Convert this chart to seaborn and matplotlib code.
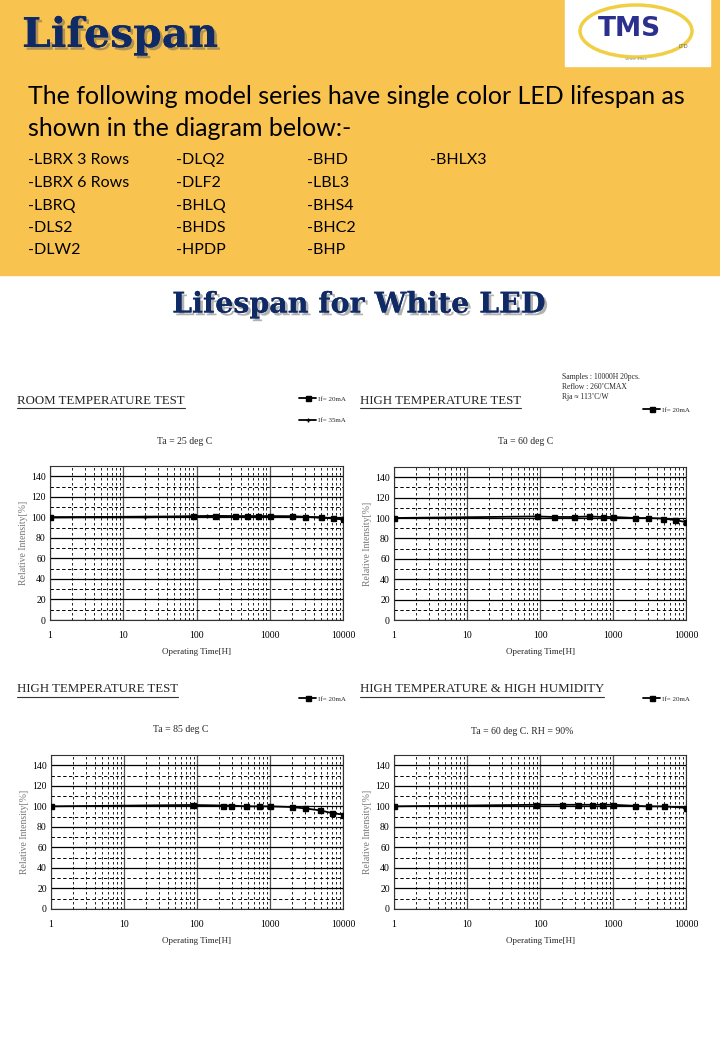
import matplotlib
matplotlib.use('Agg')
import matplotlib.pyplot as plt
import matplotlib.patheffects as pe
from matplotlib.patches import Rectangle, Ellipse
from matplotlib.lines import Line2D
from matplotlib.ticker import NullFormatter
import pandas as pd
import seaborn as sns

W, H = 720, 1040

# ---- data ----
room_hours_20 = [1, 90, 180, 340, 490, 700, 1000, 2000, 3000, 5000, 7200, 10000]
room_int_20 = [100, 101, 101.5, 101, 101, 101, 101, 101, 100.5, 100, 99, 98]
room_hours_35 = [1, 20, 140, 1000, 3000, 10000]
room_int_35 = [100, 100, 101, 101, 100.5, 98.5]

ht60_hours = [1, 90, 155, 290, 470, 720, 1000, 2000, 3000, 4900, 7000, 10000]
ht60_int = [100, 101.5, 101, 101, 101.5, 101, 101, 100, 100, 99.5, 98, 96]

ht85_hours = [1, 89, 230, 290, 475, 705, 1000, 2000, 3000, 4900, 7000, 10000]
ht85_int = [100, 101.3, 100.8, 100.8, 100, 100, 100, 99.3, 98, 96, 93.5, 92]

hh_hours = [1, 87, 200, 333, 510, 700, 1000, 2000, 3000, 5000, 10000]
hh_int = [100, 101.5, 101.5, 101.5, 101.5, 101.5, 101.5, 100.5, 100, 100, 98.5]

x_ticks = [1, 10, 100, 1000, 10000]
x_tick_labels = ['1', '10', '100', '1000', '10000']
y_ticks = [0, 20, 40, 60, 80, 100, 120, 140]

models = [
    ['-LBRX 3 Rows', '-LBRX 6 Rows', '-LBRQ', '-DLS2', '-DLW2'],
    ['-DLQ2', '-DLF2', '-BHLQ', '-BHDS', '-HPDP'],
    ['-BHD', '-LBL3', '-BHS4', '-BHC2', '-BHP'],
    ['-BHLX3'],
]

sns.set_theme(style='white')
plt.rcParams['font.family'] = ['Liberation Serif', 'DejaVu Sans']

YELLOW = '#F9C350'
NAVY = '#102A66'

fig = plt.figure(figsize=(7.2, 10.4), dpi=100)


def fx(x):
    return x / W


def fy(y):
    return 1 - y / H


# header band
fig.add_artist(Rectangle((0, fy(275)), 1, 275 / H, transform=fig.transFigure,
                         color=YELLOW, zorder=0))
# logo
fig.add_artist(Rectangle((fx(565), fy(66)), fx(145), 66 / H, transform=fig.transFigure,
                         color='white', zorder=1))
fig.add_artist(Ellipse((fx(636), fy(31)), fx(112), 52 / H, transform=fig.transFigure,
                       fill=False, edgecolor='#F0CF45', lw=2.5, zorder=2))
fig.text(fx(629), fy(29), 'TMS', family='DejaVu Sans', weight='bold', fontsize=19,
         color='#2B2F8F', ha='center', va='center', zorder=3)
fig.text(fx(683), fy(47), 'LTD', family='DejaVu Sans', fontsize=4, color='#666666',
         ha='center', va='center', zorder=3)
fig.text(fx(636), fy(59), 'since 19xx', family='DejaVu Sans', fontsize=3, color='#888888',
         ha='center', va='center', zorder=3)

shadow = [pe.withSimplePatchShadow(offset=(2, -2), shadow_rgbFace='#555555', alpha=0.45),
          pe.Normal()]
fig.text(fx(22), fy(36), 'Lifespan', family='DejaVu Serif', weight='bold', fontsize=29.5,
         color=NAVY, ha='left', va='center', path_effects=shadow)

fig.text(fx(28), fy(97), 'The following model series have single color LED lifespan as',
         family='Lato', fontsize=18, color='black', ha='left', va='center')
fig.text(fx(28), fy(129), 'shown in the diagram below:-',
         family='Lato', fontsize=18, color='black', ha='left', va='center')

col_x = [28, 176, 307, 430]
row_y = [160, 183, 206, 228, 250]
for cx, names in zip(col_x, models):
    for ry, name in zip(row_y, names):
        fig.text(fx(cx), fy(ry), name, family='Lato', fontsize=11.5, color='black',
                 ha='left', va='center')

fig.text(fx(359), fy(305), 'Lifespan for White LED', family='DejaVu Serif', weight='bold',
         fontsize=20.5, color=NAVY, ha='center', va='center', path_effects=shadow)


def make_axes(box):
    l, t, r, b = box
    ax = fig.add_axes([fx(l), fy(b), (r - l) / W, (b - t) / H])
    ax.set_xscale('log')
    ax.set_xlim(1, 10000)
    ax.set_ylim(0, 150)
    ax.set_xticks(x_ticks)
    ax.set_xticklabels(x_tick_labels)
    ax.xaxis.set_minor_formatter(NullFormatter())
    ax.set_yticks(y_ticks)
    ax.set_yticks(list(range(10, 150, 20)), minor=True)
    ax.tick_params(which='both', length=0, labelsize=7, colors='black')
    ax.tick_params(axis='x', pad=8)
    ax.tick_params(axis='y', pad=3)
    ax.grid(which='major', axis='y', color='black', lw=0.9)
    ax.grid(which='minor', axis='y', color='black', lw=0.7, ls=(0, (3.5, 2.5)))
    ax.grid(which='major', axis='x', color='#555555', lw=0.9)
    ax.grid(which='minor', axis='x', color='black', lw=0.6, ls=(0, (3, 3)))
    ax.set_axisbelow(True)
    for s in ax.spines.values():
        s.set_color('#333333')
        s.set_linewidth(0.8)
    return ax


def plot_series(ax, hours, values, label, marker='s', ms=3.6):
    df = pd.DataFrame({'hours': hours, 'intensity': values})
    sns.lineplot(data=df, x='hours', y='intensity', ax=ax, color='black', lw=1.3,
                 marker=marker, markersize=ms, markeredgecolor='black',
                 markeredgewidth=1, label=label, estimator=None, zorder=5)
    ax.set_xlabel('Operating Time[H]', fontsize=6.5, labelpad=6)
    ax.set_ylabel('Relative Intensity[%]', fontsize=7, color='#777777', labelpad=2)


def place_legend(ax, right, top, spacing=2.2):
    ax.legend(loc='upper right', bbox_to_anchor=(fx(right), fy(top)),
              bbox_transform=fig.transFigure, frameon=False, fontsize=5,
              handlelength=2.4, handletextpad=0.3, labelspacing=spacing,
              borderpad=0, borderaxespad=0)


def title(x, y, text):
    return fig.text(fx(x), fy(y), text, fontsize=9.3, ha='left', va='center')


charts = []

ax1 = make_axes((50, 466, 343, 620))
plot_series(ax1, room_hours_20, room_int_20, 'If= 20mA')
plot_series(ax1, room_hours_35, room_int_35, 'If= 35mA', marker='+', ms=3.5)
place_legend(ax1, 346, 396)
charts.append(title(17, 401, 'ROOM TEMPERATURE TEST'))
fig.text(fx(185), fy(441), 'Ta = 25 deg C', fontsize=7, ha='center', va='center')

ax2 = make_axes((394, 467, 686, 620))
plot_series(ax2, ht60_hours, ht60_int, 'If= 20mA')
place_legend(ax2, 690, 407)
charts.append(title(360, 401, 'HIGH TEMPERATURE TEST'))
fig.text(fx(526), fy(441), 'Ta = 60 deg C', fontsize=7, ha='center', va='center')
fig.text(fx(562), fy(387), 'Samples : 10000H 20pcs.\nReflow : 260\u2019CMAX\nRja \u2248 113\u2019C/W',
         fontsize=5.5, ha='left', va='center', linespacing=1.4)

ax3 = make_axes((51, 755, 343, 909))
plot_series(ax3, ht85_hours, ht85_int, 'If= 20mA')
place_legend(ax3, 346, 696)
charts.append(title(17, 689, 'HIGH TEMPERATURE TEST'))
fig.text(fx(181), fy(730), 'Ta = 85 deg C', fontsize=7, ha='center', va='center')

ax4 = make_axes((394, 755, 686, 909))
plot_series(ax4, hh_hours, hh_int, 'If= 20mA')
place_legend(ax4, 690, 696)
charts.append(title(360, 689, 'HIGH TEMPERATURE & HIGH HUMIDITY'))
fig.text(fx(522), fy(731), 'Ta = 60 deg C. RH = 90%', fontsize=7, ha='center', va='center')

# underline the chart titles
fig.canvas.draw()
renderer = fig.canvas.get_renderer()
for t in charts:
    bb = t.get_window_extent(renderer).transformed(fig.transFigure.inverted())
    fig.add_artist(Line2D([bb.x0, bb.x1], [bb.y0 - 1.5 / H, bb.y0 - 1.5 / H],
                          transform=fig.transFigure, color='#333333', lw=0.8))

fig.savefig('out.png', dpi=100)
